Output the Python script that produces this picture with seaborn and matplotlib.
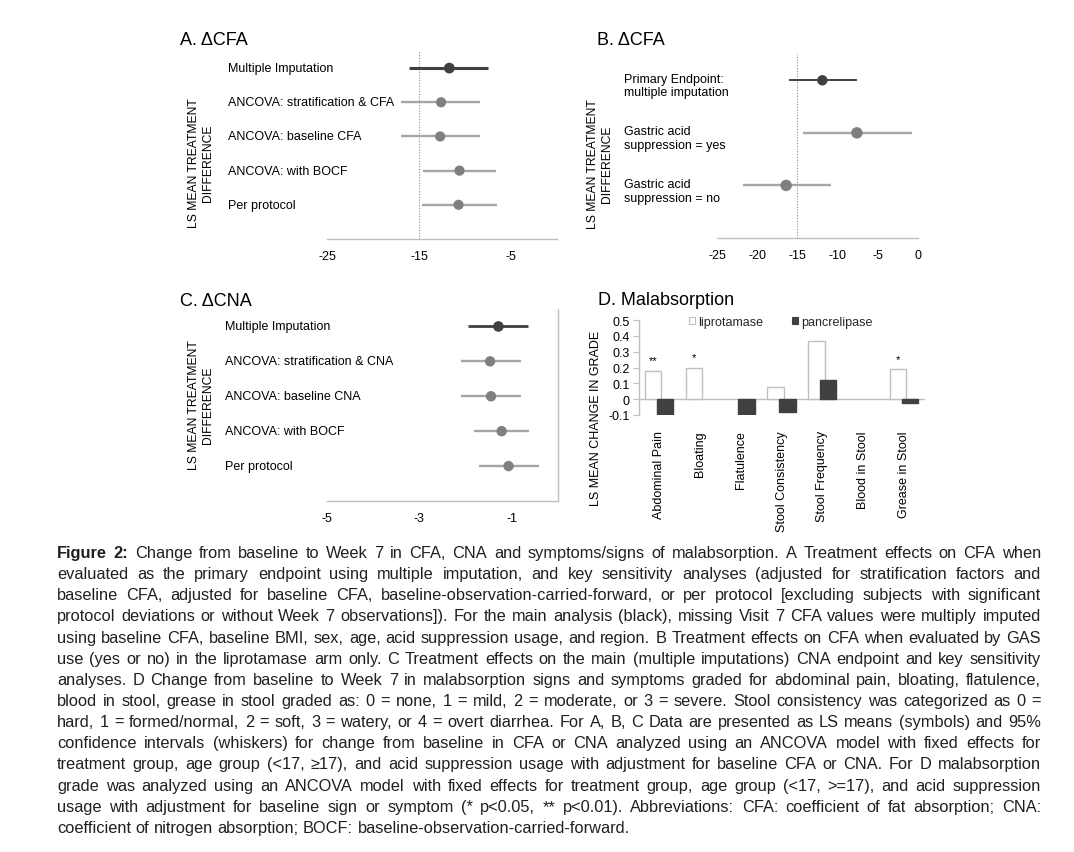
import numpy as np
import matplotlib
matplotlib.use("Agg")
import matplotlib.pyplot as plt
from matplotlib.patches import Patch
from matplotlib.transforms import blended_transform_factory
import pandas as pd
import seaborn as sns

W, H = 1074, 853

# ---- data -------------------------------------------------------------
a_labels = ["Multiple Imputation", "ANCOVA: stratification & CFA",
            "ANCOVA: baseline CFA", "ANCOVA: with BOCF", "Per protocol"]
a_mean = [-11.7, -12.6, -12.7, -10.6, -10.7]
a_low = [-16.1, -17.0, -17.0, -14.6, -14.7]
a_high = [-7.5, -8.4, -8.4, -6.6, -6.5]
a_ticks = [-25, -15, -5]

b_labels = ["Primary Endpoint:\nmultiple imputation",
            "Gastric acid\nsuppression = yes",
            "Gastric acid\nsuppression = no"]
b_mean = [-11.9, -7.6, -16.4]
b_low = [-16.1, -14.3, -21.8]
b_high = [-7.6, -0.8, -10.8]
b_ticks = [-25, -20, -15, -10, -5, 0]

c_labels = ["Multiple Imputation", "ANCOVA: stratification & CNA",
            "ANCOVA: baseline CNA", "ANCOVA: with BOCF", "Per protocol"]
c_mean = [-1.29, -1.47, -1.45, -1.22, -1.07]
c_low = [-1.94, -2.10, -2.10, -1.81, -1.72]
c_high = [-0.64, -0.81, -0.80, -0.62, -0.41]
c_ticks = [-5, -3, -1]

d_symptoms = ["Abdominal Pain", "Bloating", "Flatulence", "Stool Consistency",
              "Stool Frequency", "Blood in Stool", "Grease in Stool"]
d_lipro = [0.18, 0.20, 0.0, 0.08, 0.37, 0.0, 0.19]
d_pancre = [-0.10, 0.0, -0.10, -0.08, 0.12, 0.0, -0.025]
d_stars = ["**", "*", "", "", "", "", "*"]
d_arms = ["liprotamase", "pancrelipase"]
d_yticks = [-0.1, 0, 0.1, 0.2, 0.3, 0.4, 0.5]
d_yticklabels = ["-0.1", "0", "0.1", "0.2", "0.3", "0.4", "0.5"]

caption_lines = [
    "Figure 2: Change from baseline to Week 7 in CFA, CNA and symptoms/signs of malabsorption. A Treatment effects on CFA when",
    "evaluated as the primary endpoint using multiple imputation, and key sensitivity analyses (adjusted for stratification factors and",
    "baseline CFA, adjusted for baseline CFA, baseline-observation-carried-forward, or per protocol [excluding subjects with significant",
    "protocol deviations or without Week 7 observations]). For the main analysis (black), missing Visit 7 CFA values were multiply imputed",
    "using baseline CFA, baseline BMI, sex, age, acid suppression usage, and region. B Treatment effects on CFA when evaluated by GAS",
    "use (yes or no) in the liprotamase arm only. C Treatment effects on the main (multiple imputations) CNA endpoint and key sensitivity",
    "analyses. D Change from baseline to Week 7 in malabsorption signs and symptoms graded for abdominal pain, bloating, flatulence,",
    "blood in stool, grease in stool graded as: 0 = none, 1 = mild, 2 = moderate, or 3 = severe. Stool consistency was categorized as 0 =",
    "hard, 1 = formed/normal, 2 = soft, 3 = watery, or 4 = overt diarrhea. For A, B, C Data are presented as LS means (symbols) and 95%",
    "confidence intervals (whiskers) for change from baseline in CFA or CNA analyzed using an ANCOVA model with fixed effects for",
    "treatment group, age group (<17, \u226517), and acid suppression usage with adjustment for baseline CFA or CNA. For D malabsorption",
    "grade was analyzed using an ANCOVA model with fixed effects for treatment group, age group (<17, >=17), and acid suppression",
    "usage with adjustment for baseline sign or symptom (* p<0.05, ** p<0.01). Abbreviations: CFA: coefficient of fat absorption; CNA:",
    "coefficient of nitrogen absorption; BOCF: baseline-observation-carried-forward.",
]

# ---- style ------------------------------------------------------------
sns.set_theme(style="white")
plt.rcParams["font.family"] = ["Liberation Sans", "DejaVu Sans"]
plt.rcParams["axes.unicode_minus"] = False

AXIS_GREY = "#bfbfbf"
DARK = "#404040"

fig = plt.figure(figsize=(W / 100, H / 100), dpi=100)


def add_ax(x0, y0, x1, y1):
    # pixel box (top-left origin) -> figure fraction
    return fig.add_axes([x0 / W, 1 - y1 / H, (x1 - x0) / W, (y1 - y0) / H])


def forest(ax, labels, mean, low, high, xmin, ticks, label_x,
           lws, sizes, label_dy=0.0, ref=None, right_line=False):
    n = len(labels)
    pos = np.arange(1, n + 1)
    df = pd.DataFrame({"pos": pos, "mean": mean, "low": low, "high": high,
                       "kind": ["main"] + ["sens"] * (n - 1)})
    if ref is not None:
        ax.axvline(ref, color="#8c8c8c", lw=0.8, ls=(0, (1, 1.5)), zorder=1)
    for k, lc in [("main", DARK), ("sens", "#a6a6a6")]:
        sub = df[df.kind == k]
        ax.hlines(sub.pos, sub.low, sub.high, color=lc, lw=lws[k], zorder=2)
    sns.scatterplot(data=df, x="mean", y="pos", hue="kind", size="kind",
                    palette={"main": DARK, "sens": "#7f7f7f"}, sizes=sizes,
                    linewidth=0, legend=False, ax=ax, zorder=3)
    ax.set_xlim(xmin, 0)
    ax.set_ylim(n + 1, 0.5)
    ax.set_xticks(ticks)
    ax.set_xticklabels([str(t) for t in ticks])
    ax.set_yticks([])
    ax.set_xlabel("")
    ax.set_ylabel("")
    for s in ["left", "top", "right"]:
        ax.spines[s].set_visible(False)
    ax.spines["bottom"].set_color(AXIS_GREY)
    ax.spines["bottom"].set_linewidth(1)
    if right_line:
        ax.spines["right"].set_visible(True)
        ax.spines["right"].set_color(AXIS_GREY)
        ax.spines["right"].set_linewidth(1)
    ax.tick_params(axis="x", direction="in", length=4, width=0.8,
                   color=AXIS_GREY, pad=8, labelsize=9, labelcolor="black")
    ax.patch.set_alpha(0)
    trans = blended_transform_factory(fig.transFigure, ax.transData)
    for p, lab in zip(pos, labels):
        ax.text(label_x / W, p + label_dy, lab, transform=trans, ha="left",
                va="center", fontsize=9, color="black", clip_on=False)


# ---- panel A ----------------------------------------------------------
ax_a = add_ax(327, 52, 557, 240)
forest(ax_a, a_labels, a_mean, a_low, a_high, -25, a_ticks, 228,
       lws={"main": 2.2, "sens": 1.7}, sizes={"main": 60, "sens": 54}, ref=-15)

# ---- panel B ----------------------------------------------------------
ax_b = add_ax(717, 55, 918, 239)
forest(ax_b, b_labels, b_mean, b_low, b_high, -25, b_ticks, 624,
       lws={"main": 1.4, "sens": 1.7}, sizes={"main": 56, "sens": 68},
       label_dy=0.1, ref=-15)

# ---- panel C ----------------------------------------------------------
ax_c = add_ax(327, 310, 558, 502)
forest(ax_c, c_labels, c_mean, c_low, c_high, -5, c_ticks, 225,
       lws={"main": 2.0, "sens": 1.7}, sizes={"main": 58, "sens": 56},
       right_line=True)

# ---- panel D ----------------------------------------------------------
ax_d = add_ax(638.5, 321, 924.5, 416)
d_df = pd.DataFrame({"symptom": d_symptoms * 2,
                     "change": d_lipro + d_pancre,
                     "arm": [d_arms[0]] * len(d_symptoms) + [d_arms[1]] * len(d_symptoms)})
d_colors = {"liprotamase": "white", "pancrelipase": DARK}
sns.barplot(data=d_df, x="symptom", y="change", hue="arm", order=d_symptoms,
            hue_order=d_arms, palette=d_colors, saturation=1, errorbar=None,
            edgecolor=AXIS_GREY, linewidth=1, legend=False, ax=ax_d)
for container, off, ec in zip(ax_d.containers, [-0.145, 0.145], [AXIS_GREY, DARK]):
    for bar in container:
        i = round(bar.get_x() + bar.get_width() / 2)
        bar.set_width(0.40)
        bar.set_x(i + off - 0.20)
        bar.set_edgecolor(ec)
        if bar.get_height() == 0:
            bar.set_visible(False)
ax_d.axhline(0, color=AXIS_GREY, lw=1, zorder=0)
for i, s in enumerate(d_stars):
    if s:
        ax_d.text(i - 0.145, d_lipro[i] + 0.045, s, ha="center", va="baseline",
                  fontsize=8, color="black")
ax_d.set_xlim(-0.5, len(d_symptoms) - 0.5)
ax_d.set_ylim(-0.1, 0.5)
ax_d.set_yticks(d_yticks)
ax_d.set_yticklabels(d_yticklabels)
ax_d.set_xlabel("")
ax_d.set_ylabel("")
for s in ["top", "right", "bottom"]:
    ax_d.spines[s].set_visible(False)
ax_d.spines["left"].set_color(AXIS_GREY)
ax_d.spines["left"].set_linewidth(1)
ax_d.tick_params(axis="y", direction="out", left=True, length=4, width=0.8,
                 color=AXIS_GREY, pad=2.5, labelsize=9, labelcolor="black")
ax_d.tick_params(axis="x", length=0, pad=11, labelsize=9, labelrotation=90,
                 labelcolor="black")
ax_d.patch.set_alpha(0)
handles = [Patch(facecolor=d_colors[a], edgecolor=AXIS_GREY if a == d_arms[0] else DARK,
                 linewidth=0.8, label=a) for a in d_arms]
ax_d.legend(handles=handles, loc="center left", ncol=2, frameon=False,
            bbox_to_anchor=(689 / W, 1 - 323 / H), bbox_transform=fig.transFigure,
            borderpad=0, borderaxespad=0, handlelength=0.5, handleheight=0.5,
            handletextpad=0.25, columnspacing=2.3, fontsize=9)

# ---- titles and axis titles ------------------------------------------
for x, y, t in [(180, 45, "A. \u0394CFA"), (597, 45, "B. \u0394CFA"),
                (180, 306, "C. \u0394CNA"), (598, 305, "D. Malabsorption")]:
    fig.text(x / W, 1 - y / H, t, fontsize=13, ha="left", va="baseline", color="black")

for x, y in [(201, 163), (600, 164), (201, 405)]:
    fig.text(x / W, 1 - y / H, "LS MEAN TREATMENT\nDIFFERENCE", rotation=90,
             ha="center", va="center", multialignment="center", fontsize=8.7,
             linespacing=1.15, color="black")
fig.text(596 / W, 1 - 418 / H, "LS MEAN CHANGE IN GRADE", rotation=90,
         ha="center", va="center", fontsize=9, color="black")

# ---- caption (justified, word by word) -------------------------------
renderer = fig.canvas.get_renderer()
cap_x0, cap_x1 = 57, 1041
cap_y0, cap_dy = 558, 21.15
cap_family = ["Liberation Sans Narrow", "Liberation Sans", "DejaVu Sans"]
cap_size = 12.5
cap_color = "#231f20"


def measure(s, size, weight="normal"):
    t = fig.text(0, 0, s, fontsize=size, fontweight=weight, family=cap_family)
    w = t.get_window_extent(renderer).width
    t.remove()
    return w


widest = max(measure(l, cap_size) for l in caption_lines)
if widest > (cap_x1 - cap_x0) * 0.995:
    cap_size *= (cap_x1 - cap_x0) * 0.995 / widest
space = measure("x x", cap_size) - measure("xx", cap_size)

for i, line in enumerate(caption_lines):
    y = 1 - (cap_y0 + i * cap_dy) / H
    words = line.split(" ")
    arts = []
    for j, w in enumerate(words):
        weight = "bold" if (i == 0 and j < 2) else "normal"
        arts.append(fig.text(0, y, w, fontsize=cap_size, fontweight=weight,
                             family=cap_family, ha="left", va="baseline",
                             color=cap_color))
    widths = [a.get_window_extent(renderer).width for a in arts]
    if i == len(caption_lines) - 1:
        gap = space
    else:
        gap = (cap_x1 - cap_x0 - sum(widths)) / (len(words) - 1)
    x = cap_x0
    for a, w in zip(arts, widths):
        a.set_x(x / W)
        x += w + gap

fig.savefig("out.png", dpi=100)
